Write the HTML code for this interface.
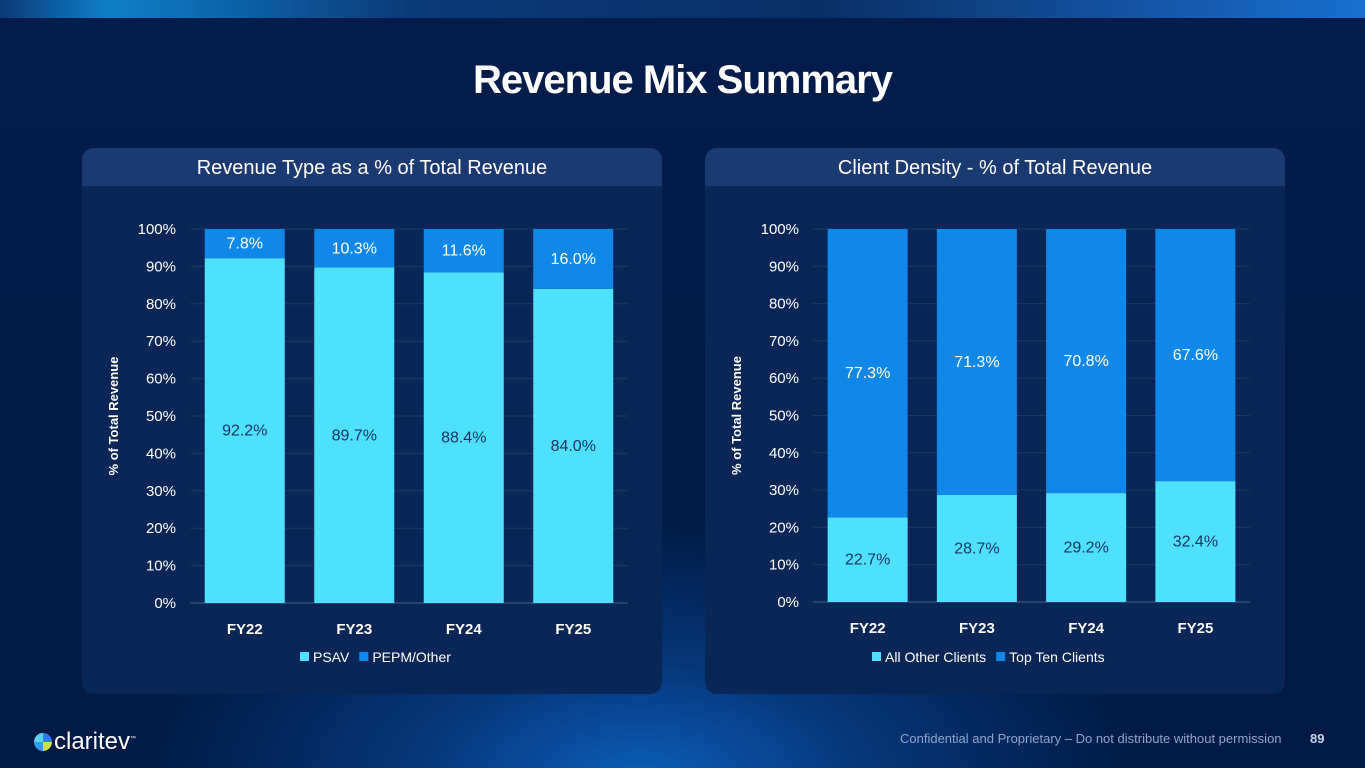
<!DOCTYPE html>
<html><head><meta charset="utf-8">
<style>
html,body{margin:0;padding:0;}
body{width:1365px;height:768px;overflow:hidden;position:relative;font-family:"Liberation Sans",sans-serif;
background:radial-gradient(ellipse 500px 260px at 640px 780px,#0a5fb8 0%,#06367a 45%,rgba(2,26,69,0) 100%),linear-gradient(180deg,#041c4c 0%,#021a45 60%,#021a45 100%);}
.topbar{position:absolute;left:0;top:0;width:1365px;height:18px;background:linear-gradient(90deg,#0b3a7a,#0e7fc7 8%,#0b3a7a 30%,#0a2f66 60%,#1a6fd0 100%);}
h1{position:absolute;top:58px;left:0;width:1365px;text-align:center;margin:0;font-size:40px;font-weight:bold;color:#fff;letter-spacing:-1px;}
.panel{position:absolute;top:148px;width:580px;height:546px;background:#0a2656;border-radius:12px;overflow:hidden;}
.phead{height:38px;background:#1b3a72;color:#fff;font-size:20px;text-align:center;line-height:40px;}
svg{position:absolute;left:0;top:0;}
.footer{position:absolute;top:731px;left:900px;font-size:13px;color:#8fa6cc;}
.pnum{position:absolute;top:731px;left:1310px;font-size:13px;color:#c8d4ea;font-weight:bold;}
.logo{position:absolute;left:34px;top:728px;font-size:24px;color:#fff;}
</style></head><body>
<div class="topbar"></div>
<h1>Revenue Mix Summary</h1>
<div class="panel" style="left:82px"><div class="phead">Revenue Type as a % of Total Revenue</div></div>
<div class="panel" style="left:705px"><div class="phead">Client Density - % of Total Revenue</div></div>
<svg id="chart" width="1365" height="768"></svg>
<div class="logo"><span style="display:inline-block;width:18px;height:18px;border-radius:50%;background:conic-gradient(#2a7fe0 0 25%,#c9e04a 0 50%,#2aa0e8 0 75%,#5ad0f0 0);vertical-align:-2px;margin-right:2px"></span>claritev<sup style="font-size:6px">™</sup></div>
<div class="footer">Confidential and Proprietary – Do not distribute without permission</div>
<div class="pnum">89</div>
<script>
const categories=["FY22","FY23","FY24","FY25"];
const psavValues=[92.2,89.7,88.4,84.0];
const pepmValues=[7.8,10.3,11.6,16.0];
const otherClientValues=[22.7,28.7,29.2,32.4];
const topTenValues=[77.3,71.3,70.8,67.6];
const tickLabels=["0%","10%","20%","30%","40%","50%","60%","70%","80%","90%","100%"];
const C1="#4ee1ff",C2="#0f88ea";
const svg=document.getElementById('chart');
const NS="http://www.w3.org/2000/svg";
function el(t,a,txt){const e=document.createElementNS(NS,t);for(const k in a)e.setAttribute(k,a[k]);if(txt!==undefined)e.textContent=txt;svg.appendChild(e);return e;}
function draw(o){
  const y=v=>o.y0-(o.y0-o.y100)*v/100;
  const x=i=>o.x0+(i+0.5)*(o.x1-o.x0)/categories.length;
  tickLabels.forEach((t,i)=>{const v=i*10;
    const g=el('line',{x1:o.x0,x2:o.x1,y1:y(v),y2:y(v),stroke:v===0?"#4a5f88":"#1d3766","stroke-width":1});
    
    const l=el('text',{x:o.x0-14,y:y(v)+5,fill:"#fff","font-size":15,"text-anchor":"end"},t);
    });
  const yt=el('text',{x:0,y:0,fill:"#fff","font-size":13,"font-weight":"bold","text-anchor":"middle",transform:`translate(${o.x0-72},${y(50)}) rotate(-90)`},"% of Total Revenue");
  
  categories.forEach((c,i)=>{
    const bw=80,cx=x(i),a=o.s1[i],b=o.s2[i];
    const r1=el('rect',{x:cx-bw/2,y:y(a),width:bw,height:y(0)-y(a),fill:C1});
    
    const r2=el('rect',{x:cx-bw/2,y:y(a+b),width:bw,height:y(a)-y(a+b),fill:C2});
    
    const t1=el('text',{x:cx,y:(y(a)+y(0))/2+o.off1,fill:"#1a3560","font-size":16,"text-anchor":"middle"},a.toFixed(1)+"%");
    
    const t2=el('text',{x:cx,y:(y(a)+y(a+b))/2+5,fill:"#fff","font-size":16,"text-anchor":"middle"},b.toFixed(1)+"%");
    
    const cl=el('text',{x:cx,y:o.y0+31,fill:"#fff","font-size":15,"font-weight":"bold","text-anchor":"middle"},c);
    
  });
  let lx=o.legX;
  [[C1,o.n1],[C2,o.n2]].forEach(([col,n])=>{
    const s=el('rect',{x:lx,y:652,width:9,height:9,fill:col});
    const t=el('text',{x:lx+13,y:662,fill:"#fff","font-size":14},n);
    lx+=13+t.getComputedTextLength()+10;});
}
draw({x0:190,x1:628,y0:603,y100:229,s1:psavValues,s2:pepmValues,k1:"psav",k2:"pepm",n1:"PSAV",n2:"PEPM/Other",legX:300,off1:5});
draw({x0:813,x1:1250,y0:602,y100:229,s1:otherClientValues,s2:topTenValues,k1:"other",k2:"topten",n1:"All Other Clients",n2:"Top Ten Clients",legX:872,off1:5});
</script>
</body></html>
